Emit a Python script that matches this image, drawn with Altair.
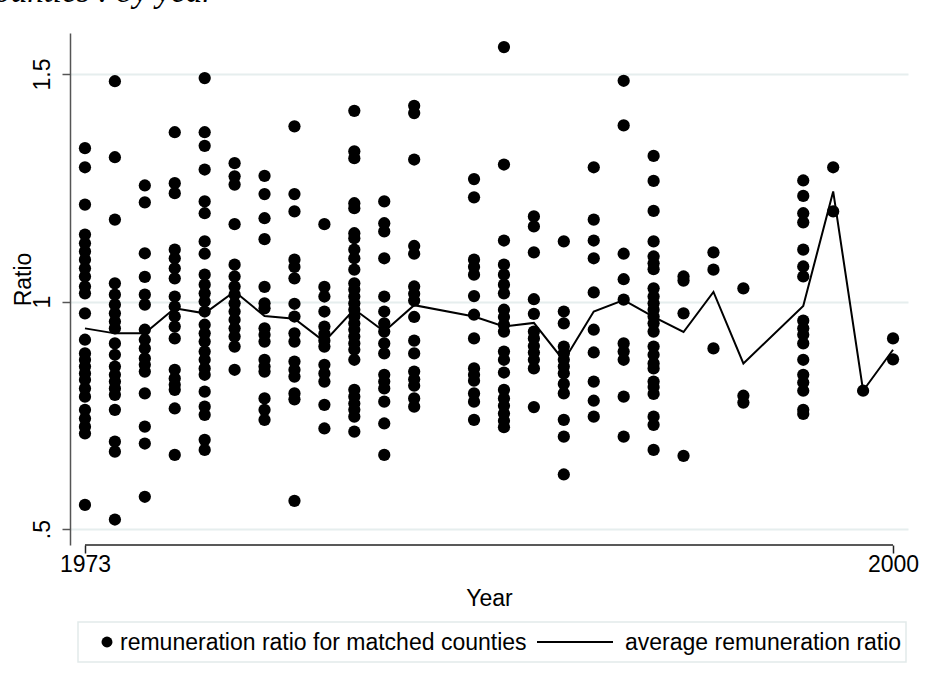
import altair as alt
import pandas as pd

# ---- data ----
r1973 = [1.337, 1.295, 1.213, 1.147, 1.128, 1.110, 1.092, 1.073, 1.055, 1.033, 1.018, 0.974,
         0.916, 0.886, 0.872, 0.857, 0.842, 0.828, 0.809, 0.791, 0.762, 0.743, 0.725, 0.710, 0.553]
r1974 = [1.484, 1.317, 1.180, 1.040, 1.015, 0.993, 0.974, 0.956, 0.941, 0.908, 0.883, 0.857,
         0.839, 0.824, 0.809, 0.795, 0.762, 0.692, 0.670, 0.521]
r1975 = [1.255, 1.218, 1.106, 1.054, 1.015, 0.993, 0.938, 0.916, 0.897, 0.875, 0.861, 0.846,
         0.798, 0.725, 0.688, 0.571]
r1976 = [1.372, 1.260, 1.238, 1.114, 1.095, 1.073, 1.051, 1.011, 0.989, 0.967, 0.945, 0.919,
         0.850, 0.831, 0.817, 0.806, 0.765, 0.663]
r1977 = [1.491, 1.372, 1.342, 1.290, 1.220, 1.194, 1.132, 1.105, 1.059, 1.037, 1.018, 1.000,
         0.978, 0.949, 0.930, 0.912, 0.890, 0.872, 0.853, 0.839, 0.802, 0.769, 0.751, 0.696, 0.674]
r1978 = [1.304, 1.275, 1.257, 1.170, 1.081, 1.055, 1.033, 1.015, 0.996, 0.978, 0.960, 0.941,
         0.923, 0.901, 0.850]
r1979 = [1.276, 1.236, 1.183, 1.137, 1.032, 0.996, 0.985, 0.941, 0.927, 0.912, 0.872, 0.857,
         0.846, 0.787, 0.762, 0.740]
r1980 = [1.385, 1.236, 1.198, 1.092, 1.076, 1.051, 0.995, 0.967, 0.930, 0.912, 0.868, 0.850,
         0.835, 0.798, 0.785, 0.562]
r1981 = [1.170, 1.032, 1.011, 0.978, 0.945, 0.929, 0.914, 0.901, 0.861, 0.842, 0.824, 0.773, 0.721]
r1982 = [1.419, 1.330, 1.315, 1.216, 1.205, 1.150, 1.139, 1.114, 1.095, 1.070, 1.040, 1.026,
         1.011, 0.996, 0.982, 0.967, 0.952, 0.938, 0.923, 0.908, 0.894, 0.872, 0.806, 0.791,
         0.776, 0.762, 0.747, 0.714]
r1983 = [1.220, 1.172, 1.154, 1.095, 1.011, 0.978, 0.952, 0.934, 0.908, 0.886, 0.839, 0.824,
         0.809, 0.780, 0.732, 0.663]
r1984 = [1.430, 1.414, 1.312, 1.122, 1.105, 1.033, 1.017, 1.002, 0.966, 0.914, 0.886, 0.846,
         0.829, 0.815, 0.787, 0.769]
r1986 = [1.269, 1.229, 1.092, 1.076, 1.059, 1.012, 0.971, 0.919, 0.853, 0.839, 0.826, 0.798,
         0.780, 0.740]
r1987 = [1.559, 1.301, 1.134, 1.081, 1.059, 1.037, 1.018, 0.982, 0.966, 0.949, 0.934, 0.890,
         0.872, 0.844, 0.806, 0.787, 0.771, 0.754, 0.738, 0.724]
r1988 = [1.187, 1.165, 1.108, 1.005, 0.973, 0.934, 0.919, 0.902, 0.888, 0.872, 0.853, 0.768]
r1989 = [1.132, 0.978, 0.952, 0.901, 0.886, 0.872, 0.857, 0.842, 0.819, 0.798, 0.740, 0.703, 0.620]
r1990 = [1.295, 1.180, 1.134, 1.095, 1.020, 0.938, 0.888, 0.824, 0.782, 0.747]
r1991 = [1.485, 1.387, 1.105, 1.049, 1.004, 0.908, 0.890, 0.872, 0.791, 0.703]
r1992 = [1.320, 1.265, 1.199, 1.132, 1.099, 1.084, 1.071, 1.029, 1.011, 0.996, 0.982, 0.967,
         0.952, 0.934, 0.901, 0.883, 0.864, 0.853, 0.824, 0.812, 0.797, 0.747, 0.729, 0.674]
r1993 = [1.055, 1.046, 0.974, 0.661]
r1994 = [1.108, 1.070, 0.897]
r1995 = [1.029, 0.793, 0.778]
r1997 = [1.266, 1.232, 1.194, 1.174, 1.114, 1.077, 1.055, 0.958, 0.941, 0.927, 0.908, 0.872,
         0.839, 0.822, 0.804, 0.762, 0.753]
r1998 = [1.295, 1.198]
r1999 = [0.804]
r2000 = [0.919, 0.873]

avg_years = [1973, 1974, 1975, 1976, 1977, 1978, 1979, 1980, 1981, 1982, 1983, 1984,
             1986, 1987, 1988, 1989, 1990, 1991, 1992, 1993, 1994, 1995, 1997, 1998, 1999, 2000]
avg_ratio = [0.941, 0.930, 0.930, 0.985, 0.974, 1.022, 0.968, 0.962, 0.912, 0.983, 0.934, 0.992,
             0.967, 0.945, 0.953, 0.870, 0.978, 1.003, 0.966, 0.933, 1.021, 0.864, 0.990, 1.242,
             0.804, 0.894]

x_ticks = [1973, 2000]
y_ticks = [0.5, 1, 1.5]
legend_labels = ["remuneration ratio for matched counties", "average remuneration ratio"]
caption = ["counties : by year"]

per_year = {1973: r1973, 1974: r1974, 1975: r1975, 1976: r1976, 1977: r1977, 1978: r1978,
            1979: r1979, 1980: r1980, 1981: r1981, 1982: r1982, 1983: r1983, 1984: r1984,
            1986: r1986, 1987: r1987, 1988: r1988, 1989: r1989, 1990: r1990, 1991: r1991,
            1992: r1992, 1993: r1993, 1994: r1994, 1995: r1995, 1997: r1997, 1998: r1998,
            1999: r1999, 2000: r2000}
pts = pd.DataFrame([(y, v) for y, vals in per_year.items() for v in vals], columns=["year", "ratio"])
avg = pd.DataFrame({"year": avg_years, "avg": avg_ratio})

W, H = 838, 512
FONT = "Liberation Sans"
FS = 23

xs = alt.Scale(domain=[1972.5, 2000.5], nice=False, zero=False)
ys = alt.Scale(domain=[0.465, 1.59], nice=False, zero=False)

x_axis = alt.Axis(values=x_ticks, format="d", title="Year", domain=False, grid=False,
                  tickSize=8, tickColor="#222222", tickWidth=1.5, labelPadding=0,
                  labelFontSize=FS, titleFontSize=FS, titleFontWeight="normal",
                  labelColor="black", titleColor="black", titleY=42, titleBaseline="top",
                  labelFlush=False)
y_axis = alt.Axis(values=y_ticks, title="Ratio", grid=True, gridColor="#e6eeee", gridWidth=2,
                  domainColor="#555555", domainWidth=1.5, tickColor="#555555", tickWidth=1.5,
                  tickSize=8, labelAngle=270, labelAlign="center", labelBaseline="alphabetic",
                  labelPadding=13, labelFontSize=FS, titleFontSize=FS, titleFontWeight="normal",
                  labelColor="black", titleColor="black", titleAngle=270, titleX=-40, titleY=246,
                  titleAlign="center", titleBaseline="alphabetic",
                  labelExpr="datum.value < 1 ? substring(toString(datum.value), 1) : toString(datum.value)")

points = alt.Chart(pts).mark_circle(size=150, color="black", opacity=1).encode(
    x=alt.X("year:Q", scale=xs, axis=x_axis),
    y=alt.Y("ratio:Q", scale=ys, axis=y_axis),
)
line = alt.Chart(avg).mark_line(color="black", strokeWidth=2).encode(
    x=alt.X("year:Q", scale=xs),
    y=alt.Y("avg:Q", scale=ys),
)
xline = alt.Chart(pd.DataFrame({"a": [0]})).mark_rule(color="#222222", strokeWidth=1.5).encode(
    x=alt.datum(x_ticks[0]), x2=alt.datum(x_ticks[1]), y=alt.value(H)
)

one = pd.DataFrame({"a": [0]})
leg_box = alt.Chart(one).mark_rect(fill="white", stroke="#e2eaea", strokeWidth=1.5).encode(
    x=alt.value(8), x2=alt.value(836), y=alt.value(589), y2=alt.value(629))
leg_dot = alt.Chart(one).mark_circle(size=120, color="black", opacity=1).encode(
    x=alt.value(37), y=alt.value(609))
leg_rule = alt.Chart(one).mark_rule(color="black", strokeWidth=2).encode(
    x=alt.value(467), x2=alt.value(543), y=alt.value(609))
leg_t1 = alt.Chart(pd.DataFrame({"t": [legend_labels[0]]})).mark_text(
    align="left", baseline="middle", font=FONT, fontSize=FS, color="black").encode(
    x=alt.value(50), y=alt.value(610), text="t:N")
leg_t2 = alt.Chart(pd.DataFrame({"t": [legend_labels[1]]})).mark_text(
    align="left", baseline="middle", font=FONT, fontSize=FS, color="black").encode(
    x=alt.value(555), y=alt.value(610), text="t:N")
cap = alt.Chart(pd.DataFrame({"t": caption})).mark_text(
    align="right", baseline="alphabetic", font="Liberation Serif", fontStyle="italic",
    fontSize=33, color="black").encode(x=alt.value(145), y=alt.value(-31), text="t:N")

chart = alt.layer(points, line, xline, leg_box, leg_dot, leg_rule, leg_t1, leg_t2, cap).properties(
    width=W, height=H,
    autosize=alt.AutoSizeParams(type="none"),
    padding={"left": 70, "top": 33, "right": 17, "bottom": 147},
    background="white",
).configure_view(stroke=None).configure_axis(labelFont=FONT, titleFont=FONT)

chart.save("out.html", embed_options={"renderer": "svg", "actions": False})
